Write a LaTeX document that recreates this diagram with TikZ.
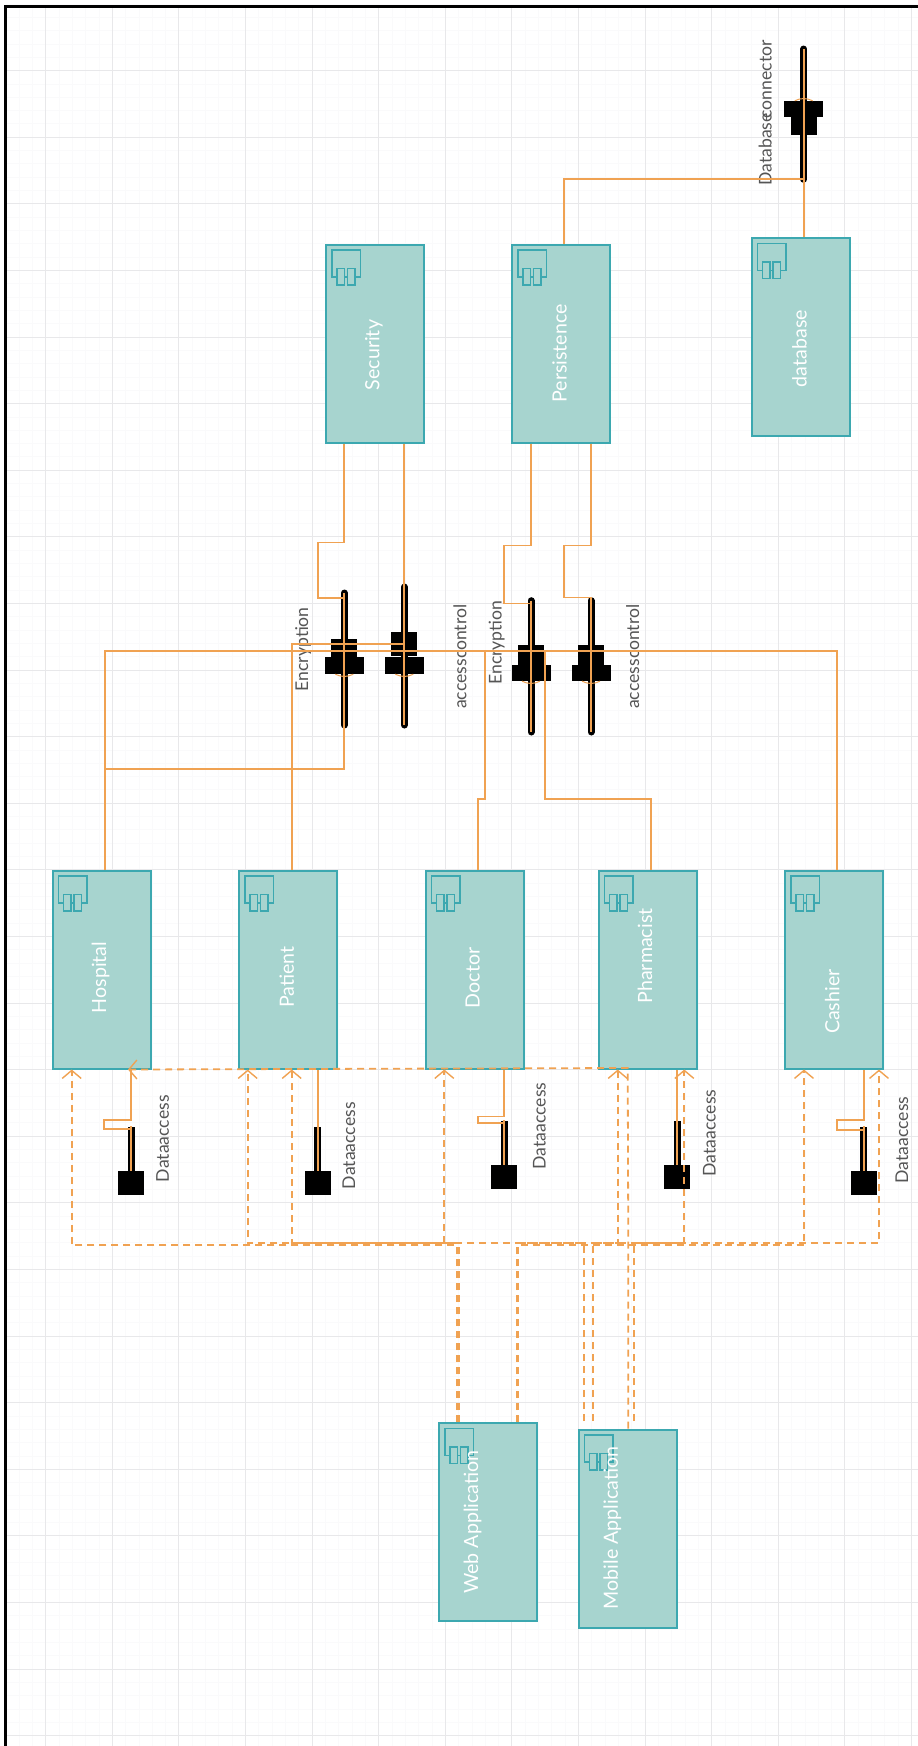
\documentclass[tikz,border=0pt]{standalone}
\usepackage{fontspec}
\setmainfont{Lato}
\usepackage{tikz}
\usetikzlibrary{arrows.meta, positioning, calc}
\definecolor{wireorange}{RGB}{240, 162, 82}
\definecolor{compfill}{RGB}{167, 212, 207}
\definecolor{compline}{RGB}{60, 168, 176}
\definecolor{gridmajor}{RGB}{232, 232, 234}
\definecolor{gridminor}{RGB}{250, 250, 251}
\definecolor{labelgrey}{RGB}{85, 85, 85}
\tikzset{
  compbox/.style={draw=compline, fill=compfill, line width=2pt, minimum width=98pt, minimum height=198pt, inner sep=0pt},
  comptext/.style={rotate=90, text=white, inner sep=0pt, font=\fontsize{19.6}{22}\selectfont},
  compicon/.style={draw=compline, line width=1.5pt},
  plugtext/.style={rotate=90, text=labelgrey, inner sep=0pt, font=\fontsize{17.6}{20}\selectfont},
  plugstem/.style={line width=7pt, line cap=round},
  plugneck/.style={fill=black, minimum width=26pt, inner sep=0pt},
  plugbase/.style={fill=black, minimum width=39pt, inner sep=0pt},
  plugend/.style={fill=black, minimum width=26pt, minimum height=24.6pt, inner sep=0pt},
  wire/.style={draw=wireorange, line width=1.8pt},
  depend/.style={draw=wireorange, line width=1.8pt, dash pattern=on 7pt off 5pt, -{Straight Barb[length=8pt,width=19pt,line width=1.4pt]}},
}
\newcommand{\compnode}[6]{%
  \node[compbox] (#1) at (#2,#3) {};
  \draw[compicon] ($(#1.north west)+(7,6.7)$) rectangle +(28.6,26.6);
  \draw[compicon, fill=compfill] ($(#1.north west)+(12,25)$) rectangle +(7.3,16.7);
  \draw[compicon, fill=compfill] ($(#1.north west)+(22.7,25)$) rectangle +(7.3,16.7);
  \node[comptext] (#1text) at (#5,#6) {#4};
}
\begin{document}
\begin{tikzpicture}[x=1pt, y=-1pt]
    \useasboundingbox (0,0) rectangle (918,1746);
    \fill[white] (0,0) rectangle (918,1746);
    % grid
    \foreach \i in {0,...,69} {
        \draw[gridminor, line width=0.8pt] ({-7.6+13.32*\i},8) -- ({-7.6+13.32*\i},1746);
    }
    \foreach \i in {0,...,131} {
        \draw[gridminor, line width=0.8pt] (6,{4+13.32*\i}) -- (918,{4+13.32*\i});
    }
    \foreach \i in {0,...,13} {
        \draw[gridmajor, line width=1pt] ({45.7+66.6*\i},8) -- ({45.7+66.6*\i},1746);
    }
    \foreach \i in {1,...,26} {
        \draw[gridmajor, line width=1pt] (6,{4+66.6*\i}) -- (918,{4+66.6*\i});
    }
    \draw[line width=3pt] (5.5,1746) -- (5.5,6.5) -- (918,6.5);

    % components
    \compnode{security}{375}{343.5}{Security}{374}{355}
    \compnode{persistence}{561}{343.5}{Persistence}{559.5}{353.3}
    \compnode{database}{800.5}{337}{database}{799.5}{348.6}
    \compnode{hospital}{101.5}{969.5}{Hospital}{100.5}{977.5}
    \compnode{patient}{288}{969.5}{Patient}{286.7}{977}
    \compnode{doctor}{474.5}{969.5}{Doctor}{472.7}{978}
    \compnode{pharmacist}{647.5}{969.5}{Pharmacist}{645}{956}
    \compnode{cashier}{834}{969.5}{Cashier}{832.3}{1001.7}
    \compnode{webapp}{488}{1522}{Web Application}{472.7}{1522}
    \compnode{mobileapp}{627.5}{1528.5}{Mobile Application}{612.3}{1528}

    % plugs with a two step socket
    \foreach \name/\xx/\ytop/\ybot/\yneck/\hneck/\ybase/\hbase in {
        enca/344.3/593/725/647.85/18.3/665.5/17,
        accessa/404.3/587/725/643.85/24.3/665.5/17,
        encb/531/600.7/732/654.85/19.7/673/16,
        accessb/591/600.7/732/654.85/19.7/673/16,
        dbconn/803.7/49/179.3/125.85/18.3/108.85/15.7} {
        \coordinate (\name top) at (\xx,\ytop);
        \coordinate (\name bot) at (\xx,\ybot);
        \draw[plugstem] (\name top) -- (\name bot);
        \node[plugneck, minimum height=\hneck pt] (\name neck) at (\xx,\yneck) {};
        \node[plugbase, minimum height=\hbase pt] (\name base) at (\xx,\ybase) {};
        \draw[wire] (\name top) -- (\name bot);
    }
    \foreach \name in {enca,accessa,encb,accessb} {
        \draw[wire, line width=1pt] ($(\name base.south)+(-9,0)$) .. controls ($(\name base.south)+(-3,3)$) and ($(\name base.south)+(3,3)$) .. ($(\name base.south)+(9,0)$);
    }
    \draw[wire, line width=1pt] ($(dbconnbase.north)+(-9,0)$) .. controls ($(dbconnbase.north)+(-3,-3)$) and ($(dbconnbase.north)+(3,-3)$) .. ($(dbconnbase.north)+(9,0)$);

    % plugs with a square end
    \foreach \name/\xx/\ytop in {
        dhospital/131/1126,
        dpatient/317.7/1126,
        ddoctor/504/1120,
        dpharmacist/677/1120,
        dcashier/863.7/1126} {
        \coordinate (\name top) at (\xx,\ytop);
        \node[plugend, anchor=north] (\name end) at (\xx,\ytop+44.5) {};
        \draw[plugstem, line cap=butt] ($(\name top)+(0,1)$) -- (\name end.north);
        \draw[wire] (\name top) -- (\name end.north);
    }

    % labels of the plugs
    \node[plugtext] (encalabel) at (303.3,649.3) {Encryption};
    \node[plugtext] (accessalabel) at (460,656.7) {accesscontrol};
    \node[plugtext] (encblabel) at (496.7,642.7) {Encryption};
    \node[plugtext] (accessblabel) at (632.7,656.7) {accesscontrol};
    \node[plugtext] (dbconnlabel) at (765.3,113) {Database\kern-0.3em connector};
    \node[plugtext] (dhospitallabel) at (162.7,1138.7) {Dataaccess};
    \node[plugtext] (dpatientlabel) at (349,1145.7) {Dataaccess};
    \node[plugtext] (ddoctorlabel) at (539.3,1126) {Dataaccess};
    \node[plugtext] (dpharmacistlabel) at (709.3,1133) {Dataaccess};
    \node[plugtext] (dcashierlabel) at (902,1140) {Dataaccess};

    % provided and required sides
    \draw[wire] (security.south -| encatop) -- ++(0,99) -- ++(-26,0) -- ++(0,55.7) -- ++(26,0);
    \draw[wire] (security.south -| accessatop) -- (accessatop);
    \draw[wire] (persistence.south -| encbtop) -- ++(0,102) -- ++(-26.7,0) -- ++(0,58) -- ++(26.7,0);
    \draw[wire] (persistence.south -| accessbtop) -- ++(0,102) -- ++(-26.7,0) -- ++(0,52) -- ++(26.7,0) -- (accessbtop);
    \draw[wire] (database.north -| dbconnbot) -- (dbconnbot);
    \draw[wire] (persistence.north -| 564.3,0) |- (dbconnbot);

    \draw[wire] (hospital.north -| 104.7,0) |- (650.7,650.7) -- (836.6,650.7) -- (cashier.north -| 836.6,0);
    \draw[wire] (104.7,769.3) -| (encabot);
    \draw[wire] (patient.north -| 291.7,0) |- (404.3,644) -- (accessabase.south);
    \draw[wire] (doctor.north -| 478.3,0) |- (484.7,799.3) -- (484.7,650.7);
    \draw[wire] (pharmacist.north -| 651,0) |- (545,799.3) -- (545,650.7);

    \draw[wire] (hospital.south -| dhospitaltop) -- ++(0,50.3) -- ++(-26.7,0) -- ++(0,9.4) -- ++(26.7,0);
    \draw[wire] (patient.south -| dpatienttop) -- (dpatienttop);
    \draw[wire] (doctor.south -| ddoctortop) -- ++(0,47) -- ++(-26.3,0) -- ++(0,6.7) -- ++(26.3,0);
    \draw[wire] (pharmacist.south -| dpharmacisttop) -- (dpharmacisttop);
    \draw[wire] (cashier.south -| dcashiertop) -- ++(0,50.3) -- ++(-26.7,0) -- ++(0,10) -- ++(26.7,0);

    % dashed dependencies
    \draw[depend] (webapp.north -| 457.7,0) -- (457.7,1245.3) -| (hospital.south -| 71.7,0);
    \draw[depend] (webapp.north -| 458.7,0) -- (458.7,1243.3) -| (patient.south -| 247.7,0);
    \draw[depend] (webapp.north -| 457.2,0) -- (457.2,1243.3) -| (doctor.south -| 444.3,0);
    \draw[depend] (webapp.north -| 517.3,0) -- (517.3,1245.3) -| (cashier.south -| 804,0);
    \draw[depend] (webapp.north -| 517.8,0) -- (517.8,1243.3) -| (pharmacist.south -| 617.7,0);
    \draw[depend] (584.3,1421) -- (584.3,1243.3) -| (patient.south -| 291.7,0);
    \draw[depend] (592.7,1421) -- (592.7,1243.3) -| (cashier.south -| 879,0);
    \draw[depend] (mobileapp.north -| 628.3,0) -- (628.3,1245) -- (627.7,1068) -- (hospital.south -| 128,0);
    \draw[depend] (633.7,1421) -- (633.7,1243.3) -| (pharmacist.south -| 684.3,0);
\end{tikzpicture}
\end{document}
